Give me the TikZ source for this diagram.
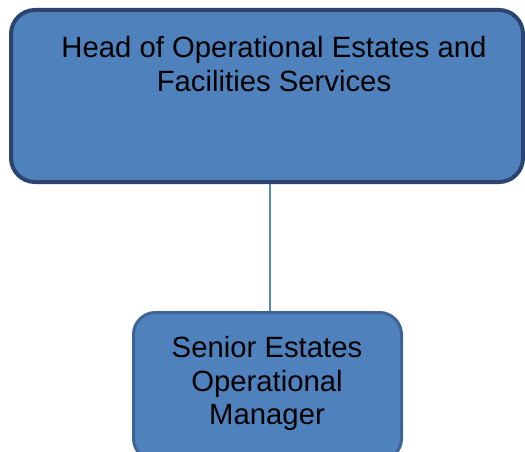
\documentclass[tikz,border=0pt]{standalone}
\usepackage{fontspec}
\setmainfont{Liberation Sans}
\definecolor{boxfill}{HTML}{4F81BD}
\definecolor{headedge}{HTML}{2B4570}
\definecolor{roleedge}{HTML}{3E6497}
\definecolor{linkcol}{HTML}{5A87C2}
\begin{document}
\begin{tikzpicture}[x=1pt,y=-1pt,
  orgbox/.style={draw, fill=boxfill, rounded corners=24pt, inner sep=0pt},
  orgtext/.style={align=center, inner sep=0pt, anchor=north,
    font=\fontsize{29.3}{33.8}\selectfont},
  link/.style={draw=linkcol, line width=1.5pt}]
  \useasboundingbox (0,0) rectangle (525,452);
  % boxes
  \node[orgbox, draw=headedge, line width=4pt,
        minimum width=512pt, minimum height=172pt] (head) at (267,96) {};
  \node[orgbox, draw=roleedge, line width=3pt, rounded corners=22pt,
        minimum width=268pt, minimum height=148pt] (senior) at (267.5,386.5) {};
  % labels
  \node[orgtext] (headtext) at (274,35.8)
    {Head of Operational Estates and\\Facilities Services};
  \node[orgtext] (seniortext) at (267,335.8)
    {Senior Estates\\Operational\\Manager};
  % connector from the head box down to the senior box
  \coordinate (hs) at ([xshift=3pt]head.south);
  \draw[link] (hs) -- (hs |- senior.north);
\end{tikzpicture}
\end{document}
